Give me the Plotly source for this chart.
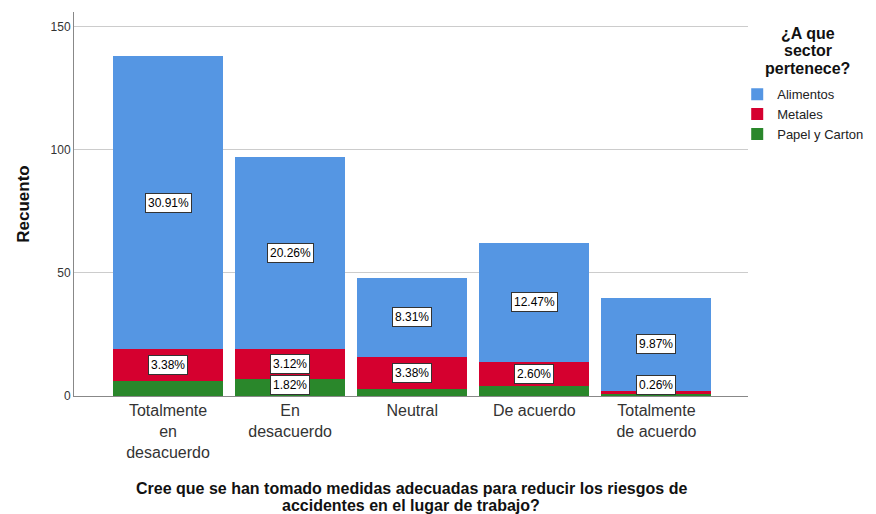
import plotly.graph_objects as go

categories = ['Totalmente<br>en<br>desacuerdo', 'En<br>desacuerdo', 'Neutral', 'De acuerdo', 'Totalmente<br>de acuerdo']
alimentos = [119, 78, 32, 48, 38]
metales = [13, 12, 13, 10, 1]
papel = [6, 7, 3, 4, 1]

alimentos_lbl = ['30.91%', '20.26%', '8.31%', '12.47%', '9.87%']
metales_lbl = ['3.38%', '3.12%', '3.38%', '2.60%', '0.26%']
papel_lbl = ['', '1.82%', '', '', '']

legend_title = ['¿A que', 'sector', 'pertenece?']
x_title = ['Cree que se han tomado medidas adecuadas para reducir los riesgos de',
           'accidentes en el lugar de trabajo?']

colors = {'Alimentos': '#5596e3', 'Metales': '#d5002f', 'Papel y Carton': '#2a872b'}

fig = go.Figure()
for name, vals in [('Papel y Carton', papel), ('Metales', metales), ('Alimentos', alimentos)]:
    fig.add_trace(go.Bar(
        x=list(range(len(categories))), y=vals, name=name,
        marker=dict(color=colors[name], line=dict(width=0)),
    ))

# percentage labels in white boxes, centred on each segment
for i in range(len(categories)):
    segs = [(papel[i], papel_lbl[i]), (metales[i], metales_lbl[i]), (alimentos[i], alimentos_lbl[i])]
    base = 0
    for v, lbl in segs:
        if lbl:
            fig.add_annotation(
                x=i, y=max(base + v / 2, 4.5), text=lbl, showarrow=False,
                font=dict(size=12, color='black'), bgcolor='white',
                bordercolor='#333333', borderwidth=1, borderpad=2,
            )
        base += v

# legend title as centred lines (SPSS style), tighter spacing than <br>
for k, line in enumerate(legend_title):
    fig.add_annotation(
        xref='paper', yref='paper', x=1.089, y=0.945 - k * 0.046, xanchor='center', yanchor='middle',
        text='<b>' + line + '</b>', showarrow=False, font=dict(size=16, color='#111111'),
    )

# x axis title, two tight lines
for k, line in enumerate(x_title):
    fig.add_annotation(
        xref='paper', yref='paper', x=0.5, y=-0.24 - k * 0.044, xanchor='center', yanchor='middle',
        text='<b>' + line + '</b>', showarrow=False, font=dict(size=16, color='#111111'),
    )

fig.update_layout(
    barmode='stack',
    bargap=0.1,
    width=876, height=514,
    font=dict(family='Liberation Sans, Arial, sans-serif', color='#222222'),
    plot_bgcolor='white',
    paper_bgcolor='white',
    margin=dict(l=74, r=128, t=12, b=118, autoexpand=False),
    legend=dict(
        x=0.984, y=0.825, xanchor='left', yanchor='top', traceorder='reversed',
        font=dict(size=13, color='#222222'), itemwidth=30, tracegroupgap=0,
    ),
    xaxis=dict(
        range=[-0.77, 4.75], tickmode='array', tickvals=list(range(len(categories))),
        ticktext=categories, tickfont=dict(size=16, color='#333333'),
        showline=True, linecolor='#888888', linewidth=1, ticks='', automargin=False,
    ),
    yaxis=dict(
        range=[0, 156], tickvals=[0, 50, 100, 150], tickfont=dict(size=12, color='#333333'),
        showgrid=True, gridcolor='#cccccc', gridwidth=1, zeroline=False,
        showline=True, linecolor='#888888', linewidth=1, ticks='', automargin=False,
        title=dict(text='<b>Recuento</b>', font=dict(size=17, color='#111111'), standoff=16),
    ),
)

fig.write_html('out.html', config={'displayModeBar': False},
               post_script="document.body.style.margin='0';")
